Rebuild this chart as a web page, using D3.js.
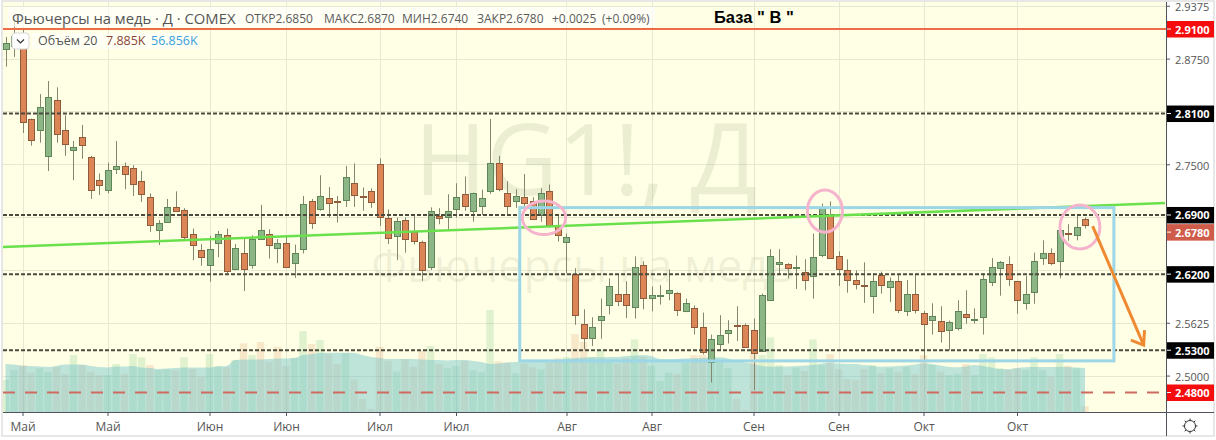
<!DOCTYPE html>
<html>
<head>
<meta charset="utf-8">
<script src="https://cdnjs.cloudflare.com/ajax/libs/d3/7.8.5/d3.min.js"></script>
<style>
html,body{margin:0;padding:0;background:#fff;overflow:hidden}
svg{display:block}
text{font-family:"Open Sans","Noto Sans",sans-serif}
</style>
</head>
<body>
<div id="chart"></div>
<script>
var opens = [2.887,2.890,2.8945,2.804,2.791,2.759,2.8255,2.790,2.7675,2.782,
  2.758,2.731,2.719,2.745,2.7475,2.745,2.73,2.711,2.6715,2.681,
  2.700,2.6955,2.667,2.648,2.6305,2.6565,2.666,2.6255,2.6455,2.6305,
  2.661,2.6675,2.6505,2.657,2.634,2.6495,2.706,2.6965,2.7095,2.706,
  2.7085,2.7275,2.7125,2.718,2.75,2.687,2.6645,2.6835,2.6695,2.6575,
  2.628,2.689,2.687,2.6965,2.7145,2.6945,2.70,2.719,2.752,2.7155,
  2.706,2.711,2.706,2.6905,2.718,2.678,2.6585,2.62,2.5605,2.5435,
  2.566,2.5835,2.597,2.597,2.582,2.6305,2.591,2.594,2.597,2.598,
  2.576,2.5795,2.558,2.5155,2.537,2.55,2.5595,2.5595,2.5545,2.5285,
  2.59,2.6315,2.6315,2.627,2.623,2.6175,2.642,2.6905,2.642,2.6245,
  2.6125,2.607,2.594,2.6185,2.6045,2.6115,2.577,2.597,2.5735,2.565,
  2.565,2.5535,2.557,2.5725,2.5665,2.569,2.61,2.627,2.6315,2.612,
  2.5865,2.5995,2.64,2.6445,2.635,2.6685,2.666,2.685];
var highs = [2.9005,2.918,2.909,2.804,2.833,2.8485,2.841,2.808,2.7775,2.7965,
  2.76,2.739,2.752,2.7775,2.752,2.749,2.742,2.7155,2.684,2.709,
  2.718,2.698,2.674,2.6555,2.665,2.671,2.674,2.6555,2.6615,2.666,
  2.702,2.673,2.6615,2.664,2.655,2.7125,2.709,2.737,2.723,2.7125,
  2.748,2.751,2.7225,2.7215,2.757,2.6965,2.687,2.687,2.689,2.6595,
  2.699,2.698,2.7145,2.7275,2.7355,2.7165,2.72,2.8035,2.76,2.73,
  2.7205,2.7385,2.711,2.7215,2.726,2.689,2.668,2.627,2.5785,2.569,
  2.591,2.615,2.62,2.6115,2.641,2.635,2.6055,2.607,2.6255,2.5985,
  2.591,2.583,2.5745,2.5485,2.5715,2.5655,2.582,2.5615,2.5675,2.597,
  2.6495,2.6495,2.633,2.642,2.6375,2.668,2.7035,2.706,2.647,2.6375,
  2.6245,2.634,2.621,2.623,2.616,2.62,2.613,2.62,2.5765,2.5855,
  2.582,2.565,2.589,2.601,2.5795,2.621,2.639,2.6355,2.641,2.612,
  2.618,2.6455,2.66,2.6505,2.6745,2.679,2.689,2.687];
var lows = [2.8655,2.877,2.787,2.772,2.7755,2.742,2.7755,2.76,2.731,2.7565,
  2.709,2.7135,2.7155,2.7385,2.7205,2.7125,2.7055,2.67,2.6545,2.681,
  2.6935,2.6595,2.6365,2.63,2.611,2.64,2.621,2.6245,2.60,2.6265,
  2.661,2.6385,2.633,2.628,2.6155,2.6445,2.6735,2.695,2.687,2.681,
  2.6995,2.6995,2.695,2.6985,2.677,2.6555,2.6365,2.6455,2.655,2.612,
  2.625,2.679,2.672,2.687,2.695,2.682,2.69,2.715,2.718,2.69,
  2.6985,2.7005,2.685,2.682,2.6755,2.6585,2.621,2.56,2.531,2.535,
  2.5435,2.5725,2.582,2.568,2.5675,2.5785,2.576,2.584,2.589,2.5705,
  2.575,2.5485,2.525,2.492,2.53,2.538,2.541,2.5335,2.483,2.528,
  2.5885,2.62,2.615,2.6025,2.601,2.591,2.64,2.638,2.606,2.598,
  2.602,2.586,2.5735,2.597,2.587,2.574,2.5705,2.5735,2.516,2.5485,
  2.539,2.53,2.5535,2.5615,2.5615,2.5485,2.606,2.5945,2.606,2.573,
  2.578,2.585,2.631,2.6305,2.615,2.6595,2.66,2.674];
var closes = [2.894,2.902,2.80,2.7795,2.818,2.829,2.7855,2.773,2.771,2.773,
  2.719,2.725,2.743,2.748,2.738,2.726,2.7145,2.678,2.68,2.699,
  2.695,2.6635,2.6535,2.6395,2.6495,2.6675,2.623,2.6505,2.6265,2.661,
  2.672,2.654,2.6565,2.629,2.6455,2.7025,2.68,2.712,2.7035,2.705,
  2.7355,2.713,2.7115,2.705,2.687,2.6635,2.6825,2.661,2.6585,2.6245,
  2.6945,2.687,2.6945,2.711,2.70,2.7155,2.7095,2.752,2.7215,2.70,
  2.712,2.7035,2.685,2.7165,2.678,2.666,2.6645,2.571,2.5435,2.557,
  2.571,2.6065,2.5885,2.584,2.629,2.591,2.595,2.595,2.601,2.578,
  2.5855,2.557,2.529,2.543,2.5475,2.5535,2.5585,2.5335,2.5275,2.595,
  2.642,2.634,2.627,2.628,2.614,2.64,2.698,2.64,2.627,2.6125,
  2.608,2.606,2.6115,2.607,2.6115,2.577,2.597,2.578,2.5605,2.57,
  2.5535,2.563,2.577,2.569,2.5675,2.614,2.628,2.634,2.614,2.589,
  2.597,2.636,2.6455,2.633,2.672,2.668,2.6755,2.678];
// volume and its 20 bar average, in thousands
var volumes = [41.3,54.1,60.5,50.7,56.3,52,58.4,49,73.3,60.5,
  52,47.7,47.7,61.8,49,74.6,70.4,60.5,54.1,55,
  54.1,70.4,55.4,45.6,74.6,59.3,57.6,66.9,88.3,73.3,
  90,64.8,84,59.3,69.5,104,87.4,92.5,74.6,61.8,
  75.9,42.2,17,4.2,84,66,52,68.2,58.4,78.5,
  84.9,61.8,56.3,59.3,66,54.1,51.2,131,65.3,63.5,
  49.9,62.7,57.6,55,63.5,69.5,70.8,100.2,90,70.8,
  79.7,66.9,62.7,69.5,93.4,70.8,59.3,40,50.7,49,
  63.1,73.3,73.3,69.5,64.8,56.3,17,2.9,75.9,73.3,
  96,60.5,47.7,57.1,52.9,93.4,60.5,74.6,55.4,42.6,
  41.3,55,60.5,49.9,56.3,51.2,58.4,49,73.3,60.5,
  52,47.7,49,61.8,47.7,74.6,70.4,56.3,54.1,56.3,
  54.1,70.4,54.1,45.6,74.6,59.6,56.3,7.885];
var volumeMA = [61.8,61.2,59.3,59.3,58.6,58,59.3,61.2,61.2,61.2,
  59.3,58,57.3,58.6,58.6,59.3,57.3,56.7,55.4,56.1,
  56.7,57.3,57.3,57.3,57.3,58.6,59.3,66.9,67.6,67.6,
  67.6,68.2,68.9,68.9,69.5,73.3,74.6,75.9,76.3,76.3,
  76.3,75.9,73.3,70.8,69.5,68.2,68.2,68.2,68.2,67.6,
  66.9,66.9,66.3,66.9,66.9,65.7,64.4,61.8,62.5,63.7,
  64.4,65,65,65.7,66.3,66.9,68.2,69.5,70.1,70.4,
  70.4,70.8,70.8,72.1,72.7,73.3,72.1,68.2,67.6,68.2,
  68.9,69.5,69.5,70.1,70.4,68.9,65.7,63.7,61.8,59.3,
  58.4,58.4,58.6,59.3,59.9,60.5,62.5,63.1,62.5,61.8,
  61.8,60.5,59.3,58.4,58.6,59.3,59.9,61.2,62.7,61.8,
  59.9,58,57.6,58.6,60.5,59.3,57.3,55.4,55.4,56.7,
  57.6,58,58,58,58.4,58,57.3,56.856];
// bars whose volume colour differs from the candle colour
var volumeColorSwap = [15,16,21,30,32];

var monthTicks = [2,12,24,33,44,53,66,76,88,98,108,119];
var monthLabels = ["Май","Май","Июн","Июн","Июл","Июл","Авг","Авг","Сен","Сен","Окт","Окт"];
var gridPrices = [2.9375,2.875,2.8125,2.75,2.6875,2.625,2.5625,2.5];
var axisPrices = [2.9375,2.875,2.75,2.5625,2.5];
var blackLevels = [2.81,2.69,2.62,2.53];
var redSolid = 2.91, redDashed = 2.48, lastClose = 2.678;

var trendLine = [[-0.3,2.652],[136.4,2.7041]];
var boxRange = {i0:60.5,i1:130.4,p0:2.5174,p1:2.6987};
var circles = [
  {i:63.35,p:2.6867,di:2.55,dp:0.0198},
  {i:96.4,p:2.6946,di:2.06,dp:0.0249},
  {i:126.4,p:2.6757,di:2.35,dp:0.026}
];
var arrowLine = [[127.9,2.6769],[133.9,2.536]];
var arrowHead = [[132.4,2.5419],[133.9,2.536],[134,2.5538]];

var width = 1216, height = 440;
var plotL = 3, plotR = 1166, plotT = 2, plotB = 412;

var svg = d3.select("#chart").append("svg").attr("width", width).attr("height", height);

var x = d3.scaleLinear().domain([0,127]).range([5.5,1085]);
var y = d3.scaleLinear().domain([2.91,2.48]).range([29,392.5]);
var vol = d3.scaleLinear().domain([0,100]).range([412.3,334.2]);

var upFill="#8db687", upLine="#5f8559", downFill="#dc8556", downLine="#8f5b3a", wick="#84876d";

svg.append("rect").attr("x",2).attr("y",1).attr("width",1212).attr("height",435)
  .attr("fill","#fff").attr("stroke","#e0e0e0").attr("stroke-width",1.5);

svg.append("defs").append("clipPath").attr("id","plot").append("rect")
  .attr("x",plotL).attr("y",plotT).attr("width",plotR-plotL).attr("height",plotB-plotT);

var plot = svg.append("g").attr("clip-path","url(#plot)");
plot.append("rect").attr("x",plotL).attr("y",plotT).attr("width",plotR-plotL).attr("height",plotB-plotT)
  .attr("fill","#ffffe6");

// grid
plot.selectAll("line.gx").data(monthTicks).enter().append("line").attr("class","gx")
  .attr("x1",function(d){return Math.round(x(d))+.5}).attr("x2",function(d){return Math.round(x(d))+.5})
  .attr("y1",plotT).attr("y2",plotB).attr("stroke","#e6e8d2");
plot.selectAll("line.gy").data(gridPrices).enter().append("line").attr("class","gy")
  .attr("x1",plotL).attr("x2",plotR)
  .attr("y1",function(d){return Math.round(y(d))+.5}).attr("y2",function(d){return Math.round(y(d))+.5})
  .attr("stroke","#e6e8d2");

// watermark
plot.append("text").attr("x",586).attr("y",195).attr("text-anchor","middle")
  .attr("font-size",98).attr("fill","#7f8a68").attr("fill-opacity",.15).text("HG1!, Д");
plot.append("text").attr("x",583).attr("y",282).attr("text-anchor","middle")
  .attr("font-size",45).attr("fill","#7f8a68").attr("fill-opacity",.13).text("Фьючерсы на медь");

// volume
function isUp(i){return closes[i]>=opens[i]}
plot.selectAll("rect.vol").data(volumes).enter().append("rect").attr("class","vol")
  .attr("x",function(d,i){return x(i)-3.75}).attr("width",7.5)
  .attr("y",function(d){return vol(d)}).attr("height",function(d){return vol(0)-vol(d)})
  .attr("fill",function(d,i){
    var up=isUp(i);
    if(volumeColorSwap.indexOf(i)>=0) up=!up;
    return up?"rgba(83,175,100,.18)":"rgba(210,130,80,.18)";
  });
var area = d3.area().x(function(d,i){return x(i)}).y0(vol(0)).y1(function(d){return vol(d)}).curve(d3.curveMonotoneX);
plot.append("path").datum(volumeMA).attr("d",area).attr("fill","rgba(110,195,205,.45)");

// candles
var candle = plot.selectAll("g.candle").data(opens).enter().append("g").attr("class","candle");
candle.append("line")
  .attr("x1",function(d,i){return Math.round(x(i))+.5}).attr("x2",function(d,i){return Math.round(x(i))+.5})
  .attr("y1",function(d,i){return y(highs[i])}).attr("y2",function(d,i){return y(lows[i])})
  .attr("stroke",wick);
candle.append("rect")
  .attr("x",function(d,i){return Math.round(x(i))-2.5}).attr("width",6)
  .attr("y",function(d,i){return Math.round(y(Math.max(opens[i],closes[i])))+.5})
  .attr("height",function(d,i){return Math.max(1,Math.round(Math.abs(y(opens[i])-y(closes[i]))))})
  .attr("fill",function(d,i){return isUp(i)?upFill:downFill})
  .attr("stroke",function(d,i){return isUp(i)?upLine:downLine});

// price levels
plot.selectAll("line.lvl").data(blackLevels).enter().append("line").attr("class","lvl")
  .attr("x1",plotL).attr("x2",plotR).attr("y1",function(d){return y(d)}).attr("y2",function(d){return y(d)})
  .attr("stroke","#4a4b3d").attr("stroke-width",2).attr("stroke-dasharray","4 2");
plot.append("line").attr("x1",plotL).attr("x2",plotR).attr("y1",y(redSolid)).attr("y2",y(redSolid))
  .attr("stroke","#ee6a48").attr("stroke-width",2);
plot.append("line").attr("x1",plotL).attr("x2",plotR).attr("y1",y(redDashed)).attr("y2",y(redDashed))
  .attr("stroke","#cf6a62").attr("stroke-width",2).attr("stroke-dasharray","12 10");

// drawings
var line = d3.line().x(function(d){return x(d[0])}).y(function(d){return y(d[1])});
plot.append("path").attr("d",line(trendLine)).attr("stroke","#69e04c").attr("stroke-width",2.5).attr("fill","none");
plot.append("rect").attr("x",x(boxRange.i0)).attr("y",y(boxRange.p1))
  .attr("width",x(boxRange.i1)-x(boxRange.i0)).attr("height",y(boxRange.p0)-y(boxRange.p1))
  .attr("fill","none").attr("stroke","#9dd6e6").attr("stroke-width",3);
plot.selectAll("ellipse").data(circles).enter().append("ellipse")
  .attr("cx",function(d){return x(d.i)}).attr("cy",function(d){return y(d.p)})
  .attr("rx",function(d){return x(d.i+d.di)-x(d.i)}).attr("ry",function(d){return y(d.p-d.dp)-y(d.p)})
  .attr("fill","none").attr("stroke","#f5b3cc").attr("stroke-width",3);
plot.append("path").attr("d",line(arrowLine)).attr("stroke","#f08a32").attr("stroke-width",3).attr("fill","none");
plot.append("path").attr("d",line(arrowHead)).attr("stroke","#f08a32").attr("stroke-width",3).attr("fill","none");

// legend
plot.append("rect").attr("x",8).attr("y",7).attr("width",647).attr("height",20).attr("fill","#fff").attr("fill-opacity",.65);
plot.append("rect").attr("x",32).attr("y",33).attr("width",167).attr("height",16).attr("fill","#fff").attr("fill-opacity",.5);
var legend = svg.append("g").attr("fill","#666");
legend.append("text").attr("x",12).attr("y",24).attr("font-size",14.8).attr("fill","#555").text("Фьючерсы на медь · Д · COMEX");
var ohlc = [[245,"ОТКР2.6850"],[324,"МАКС2.6870"],[402,"МИН2.6740"],[477,"ЗАКР2.6780"],[552,"+0.0025"],[602,"(+0.09%)"]];
legend.selectAll("text.o").data(ohlc).enter().append("text").attr("class","o")
  .attr("x",function(d){return d[0]}).attr("y",23).attr("font-size",12).attr("fill","#5b5b5b").text(function(d){return d[1]});
legend.append("text").attr("x",38).attr("y",45).attr("font-size",12.5).attr("fill","#555").text("Объём 20");
legend.append("text").attr("x",106).attr("y",45).attr("font-size",12.5).attr("fill","#8a4638").text("7.885K");
legend.append("text").attr("x",151).attr("y",45).attr("font-size",12.5).attr("fill","#3a9fdc").text("56.856K");
svg.append("rect").attr("x",12).attr("y",33).attr("width",17).attr("height",16).attr("rx",3)
  .attr("fill","#fff").attr("stroke","#d8d8d8");
svg.append("path").attr("d","M17 39.5l3.5 3.5 3.5-3.5").attr("fill","none").attr("stroke","#333").attr("stroke-width",1.2);
svg.append("text").attr("x",714).attr("y",23).attr("font-size",16.5).attr("font-weight","bold")
  .attr("fill","#000").style("font-family","Liberation Sans").text("База  \" В \"");

// axes
var xAxis = d3.axisBottom(x).tickValues(monthTicks).tickSize(4).tickPadding(6)
  .tickFormat(function(d,i){return monthLabels[i]});
var gx = svg.append("g").attr("transform","translate(0,"+plotB+")").call(xAxis);
gx.select(".domain").remove();
gx.selectAll("line").attr("stroke","#50535e");
gx.selectAll("text").attr("font-size",12).attr("fill","#555");
svg.append("line").attr("x1",plotL).attr("x2",1214).attr("y1",plotB+.5).attr("y2",plotB+.5).attr("stroke","#50535e");

var yAxis = d3.axisRight(y).tickValues(axisPrices).tickSize(4).tickPadding(5)
  .tickFormat(d3.format(".4f"));
var gy = svg.append("g").attr("transform","translate("+plotR+",0)").call(yAxis);
gy.select(".domain").remove();
gy.selectAll("line").attr("stroke","#50535e");
gy.selectAll("text").attr("font-size",11).attr("fill","#555").attr("dy","0.45em");
svg.append("line").attr("x1",plotR+.5).attr("x2",plotR+.5).attr("y1",plotT).attr("y2",436).attr("stroke","#50535e");

// price labels
var labels = blackLevels.map(function(p){return {p:p,bg:"#000",dy:0}});
labels.push({p:redSolid,bg:"#f50d0d",dy:0},{p:redDashed,bg:"#f50d0d",dy:0},{p:lastClose,bg:"#cf5b4a",dy:7});
var lab = svg.selectAll("g.lab").data(labels).enter().append("g").attr("class","lab")
  .attr("transform",function(d){return "translate("+plotR+","+(y(d.p)+d.dy)+")"});
lab.append("rect").attr("x",1).attr("y",-8).attr("width",47).attr("height",16.5).attr("fill",function(d){return d.bg});
lab.append("line").attr("x1",1).attr("x2",5).attr("stroke","#fff");
lab.append("text").attr("x",9).attr("y",4.5).attr("font-size",11).attr("font-weight","bold").attr("fill","#fff")
  .text(function(d){return d.p.toFixed(4)});

// gear icon
var gear = svg.append("g").attr("transform","translate(1190,426)").attr("fill","none").attr("stroke","#333");
gear.append("circle").attr("r",5.5);
gear.selectAll("line").data(d3.range(8)).enter().append("line")
  .attr("x1",function(d){return 5.5*Math.cos(d*Math.PI/4)}).attr("y1",function(d){return 5.5*Math.sin(d*Math.PI/4)})
  .attr("x2",function(d){return 7.5*Math.cos(d*Math.PI/4)}).attr("y2",function(d){return 7.5*Math.sin(d*Math.PI/4)});
</script>
</body>
</html>
